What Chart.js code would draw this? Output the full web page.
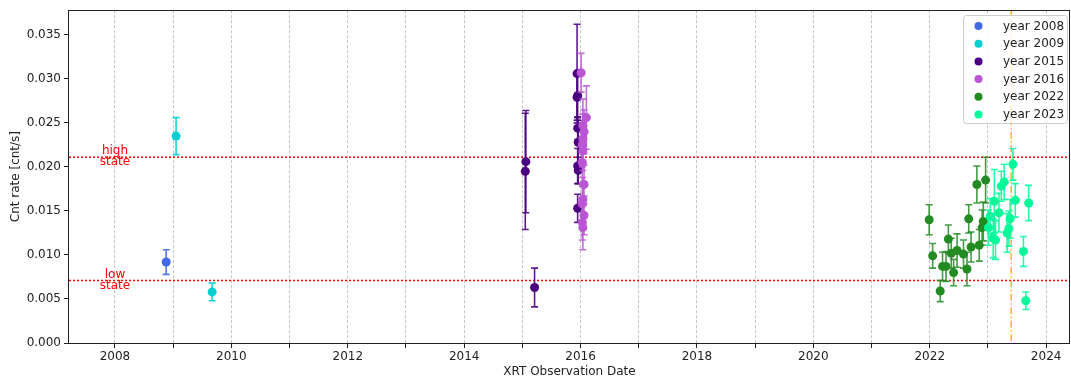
<!DOCTYPE html>
<html>
<head>
<meta charset="utf-8">
<script src="https://cdn.jsdelivr.net/npm/chart.js@4.4.0/dist/chart.umd.min.js"></script>
<style>
  html, body { margin: 0; padding: 0; background: #fff; }
</style>
</head>
<body>
<canvas id="chart" width="1071" height="379"></canvas>
<script>
// series labels and colours
const seriesLabels = ["year 2008", "year 2009", "year 2015", "year 2016", "year 2022", "year 2023"];
const seriesColors = ["#4169e1", "#00ced1", "#4b0082", "#ba55d3", "#228b22", "#00fa9a"];
const barColors = ["rgba(65,105,225,0.9)", "rgba(0,206,209,0.9)", "rgba(75,0,130,0.9)",
                   "rgba(186,85,211,0.85)", "rgba(34,139,34,0.85)", "rgba(0,250,154,0.85)"];

// observation date (decimal year), count rate, error
const date2008 = [2008.88];
const rate2008 = [0.0092];
const err2008 = [0.0014];

const date2009 = [2009.05, 2009.67];
const rate2009 = [0.0235, 0.0058];
const err2009 = [0.0021, 0.0010];

const date2015 = [2015.06, 2015.05, 2015.21, 2015.94, 2015.95, 2015.94, 2015.95, 2015.96, 2015.95, 2015.96, 2015.95];
const rate2015 = [0.0206, 0.0195, 0.0063, 0.0306, 0.0281, 0.0279, 0.0244, 0.0228, 0.0201, 0.0196, 0.0153];
const err2015 = [0.0058, 0.0066, 0.0022, 0.0056, 0.0025, 0.0026, 0.0013, 0.0025, 0.0020, 0.0015, 0.0016];

const date2016 = [2016.01, 2016.10, 2016.04, 2016.06, 2016.04, 2016.03, 2016.04, 2016.03, 2016.06, 2016.04, 2016.03, 2016.06, 2016.03, 2016.04];
const rate2016 = [0.0307, 0.0256, 0.0247, 0.0240, 0.0232, 0.0225, 0.0218, 0.0205, 0.0180, 0.0163, 0.0158, 0.0145, 0.0137, 0.0131];
const err2016 = [0.0022, 0.0036, 0.0030, 0.0025, 0.0028, 0.0025, 0.0022, 0.0024, 0.0022, 0.0025, 0.0020, 0.0022, 0.0020, 0.0025];

const date2022 = [2021.99, 2022.05, 2022.18, 2022.22, 2022.28, 2022.32, 2022.37, 2022.41, 2022.47,
                  2022.58, 2022.64, 2022.67, 2022.71, 2022.81, 2022.85, 2022.90, 2022.92, 2022.96];
const rate2022 = [0.0140, 0.0099, 0.0059, 0.0087, 0.0087, 0.0118, 0.0102, 0.0080, 0.0105,
                  0.0101, 0.0084, 0.0141, 0.0109, 0.0180, 0.0111, 0.0131, 0.0138, 0.0185];
const err2022 = [0.0017, 0.0014, 0.0012, 0.0016, 0.0017, 0.0016, 0.0017, 0.0015, 0.0019,
                 0.0016, 0.0019, 0.0016, 0.0017, 0.0021, 0.0018, 0.0020, 0.0022, 0.0026];

const date2023 = [2023.01, 2023.04, 2023.09, 2023.11, 2023.13, 2023.19, 2023.23, 2023.28,
                  2023.33, 2023.36, 2023.38, 2023.43, 2023.47, 2023.61, 2023.65, 2023.70];
const rate2023 = [0.0131, 0.0144, 0.0119, 0.0161, 0.0117, 0.0148, 0.0178, 0.0183,
                  0.0125, 0.0130, 0.0141, 0.0203, 0.0162, 0.0104, 0.0048, 0.0159];
const err2023 = [0.0020, 0.0020, 0.0022, 0.0036, 0.0022, 0.0022, 0.0017, 0.0020,
                 0.0022, 0.0020, 0.0022, 0.0018, 0.0019, 0.0017, 0.0010, 0.0020];

const xTicks = [2008, 2009, 2010, 2011, 2012, 2013, 2014, 2015, 2016, 2017, 2018, 2019, 2020, 2021, 2022, 2023, 2024];
const yTicks = [0, 0.005, 0.010, 0.015, 0.020, 0.025, 0.030, 0.035];

const highState = 0.0211;
const lowState = 0.0071;
const markerDate = 2023.40;

const allDates = [date2008, date2009, date2015, date2016, date2022, date2023];
const allRates = [rate2008, rate2009, rate2015, rate2016, rate2022, rate2023];
const allErrs = [err2008, err2009, err2015, err2016, err2022, err2023];

const datasets = seriesLabels.map((label, k) => ({
    label: label,
    data: allDates[k].map((d, i) => ({ x: d, y: allRates[k][i] })),
    errors: allErrs[k],
    barColor: barColors[k],
    backgroundColor: seriesColors[k],
    borderColor: seriesColors[k],
    pointRadius: 4.5,
    pointBorderWidth: 0,
    order: seriesLabels.length - k
}));

Chart.defaults.font.family = "'DejaVu Sans', sans-serif";
Chart.defaults.font.size = 12;
Chart.defaults.color = "#222";

const errorBars = {
    id: "errorBars",
    beforeDatasetDraw(chart, args) {
        const ds = chart.data.datasets[args.index];
        const xs = chart.scales.x, ys = chart.scales.y, a = chart.chartArea;
        const ctx = chart.ctx;
        ctx.save();
        ctx.beginPath();
        ctx.rect(a.left, a.top, a.right - a.left, a.bottom - a.top);
        ctx.clip();
        ctx.strokeStyle = ds.barColor;
        ctx.lineWidth = 1.6;
        ds.data.forEach((p, i) => {
            const x = xs.getPixelForValue(p.x);
            const y1 = ys.getPixelForValue(p.y - ds.errors[i]);
            const y2 = ys.getPixelForValue(p.y + ds.errors[i]);
            ctx.beginPath();
            ctx.moveTo(x, y1); ctx.lineTo(x, y2);
            ctx.moveTo(x - 3.5, y1); ctx.lineTo(x + 3.5, y1);
            ctx.moveTo(x - 3.5, y2); ctx.lineTo(x + 3.5, y2);
            ctx.stroke();
        });
        ctx.restore();
    }
};

const refLines = {
    id: "refLines",
    beforeDatasetsDraw(chart) {
        const xs = chart.scales.x, ys = chart.scales.y, a = chart.chartArea;
        const ctx = chart.ctx;
        ctx.save();
        ctx.strokeStyle = "red";
        ctx.lineWidth = 1.5;
        ctx.setLineDash([2, 2]);
        [highState, lowState].forEach(v => {
            const y = ys.getPixelForValue(v);
            ctx.beginPath();
            ctx.moveTo(a.left, y);
            ctx.lineTo(a.right, y);
            ctx.stroke();
        });
        ctx.strokeStyle = "rgba(255,165,0,0.85)";
        ctx.setLineDash([7, 2.5, 1.5, 2.5]);
        const xm = xs.getPixelForValue(markerDate);
        ctx.beginPath();
        ctx.moveTo(xm, a.top);
        ctx.lineTo(xm, a.bottom);
        ctx.stroke();
        ctx.setLineDash([]);

        // state labels
        ctx.fillStyle = "red";
        ctx.textAlign = "center";
        ctx.textBaseline = "middle";
        ctx.font = "12px 'DejaVu Sans'";
        const xl = xs.getPixelForValue(2008);
        const yh = ys.getPixelForValue(highState);
        const yl = ys.getPixelForValue(lowState);
        ctx.fillText("high", xl, yh - 6);
        ctx.fillText("state", xl, yh + 5);
        ctx.fillText("low", xl, yl - 6);
        ctx.fillText("state", xl, yl + 5);
        ctx.restore();
    },
    afterDraw(chart) {
        const a = chart.chartArea;
        const ctx = chart.ctx;
        ctx.save();
        // frame
        ctx.strokeStyle = "#222";
        ctx.lineWidth = 1;
        ctx.strokeRect(Math.round(a.left) - 0.5, Math.round(a.top) + 0.5,
                       Math.round(a.right - a.left), Math.round(a.bottom - a.top));

        // legend
        const bx = 963.5, by = 15.5, bw = 104, bh = 108;
        ctx.fillStyle = "rgba(255,255,255,0.8)";
        ctx.strokeStyle = "#cccccc";
        ctx.beginPath();
        ctx.roundRect(bx, by, bw, bh, 3);
        ctx.fill();
        ctx.stroke();
        ctx.font = "12px 'DejaVu Sans'";
        ctx.textAlign = "left";
        ctx.textBaseline = "middle";
        chart.data.datasets.forEach((ds, i) => {
            const y = 26 + i * 17.7;
            ctx.fillStyle = ds.backgroundColor;
            ctx.beginPath();
            ctx.arc(978.5, y, 4, 0, Math.PI * 2);
            ctx.fill();
            ctx.fillStyle = "#222";
            ctx.fillText(ds.label, 1003, y + 0.5);
        });
        ctx.restore();
    }
};

new Chart(document.getElementById("chart"), {
    type: "scatter",
    data: { datasets: datasets },
    options: {
        responsive: false,
        animation: false,
        layout: { autoPadding: false, padding: { top: 10, right: 1, left: 0, bottom: 0 } },
        plugins: {
            legend: { display: false },
            tooltip: { enabled: false }
        },
        scales: {
            x: {
                type: "linear",
                min: 2007.21,
                max: 2024.41,
                afterBuildTicks: (s) => { s.ticks = xTicks.map(v => ({ value: v })); },
                afterFit: (s) => { s.height = 36; },
                ticks: {
                    autoSkip: false,
                    maxRotation: 0,
                    padding: 2,
                    callback: (v) => (Math.round(v) % 2 === 0 ? String(Math.round(v)) : "")
                },
                grid: {
                    color: "rgba(120,120,120,0.55)",
                    lineWidth: 0.8,
                    tickLength: 5,
                    tickColor: "#222",
                    tickWidth: 1,
                    tickBorderDash: []
                },
                border: { display: false, dash: [3, 2] },
                title: {
                    display: true,
                    text: "XRT Observation Date",
                    padding: { top: 0, bottom: 0 }
                }
            },
            y: {
                min: 0,
                max: 0.0378,
                afterBuildTicks: (s) => { s.ticks = yTicks.map(v => ({ value: v })); },
                afterFit: (s) => { s.width = 69; },
                ticks: {
                    padding: 3,
                    callback: (v) => v.toFixed(3)
                },
                grid: {
                    drawOnChartArea: false,
                    tickLength: 5,
                    tickColor: "#222",
                    tickWidth: 1
                },
                border: { display: false },
                title: {
                    display: true,
                    text: "Cnt rate [cnt/s]",
                    padding: { top: 9, bottom: 4 }
                }
            }
        }
    },
    plugins: [errorBars, refLines]
});
</script>
</body>
</html>
